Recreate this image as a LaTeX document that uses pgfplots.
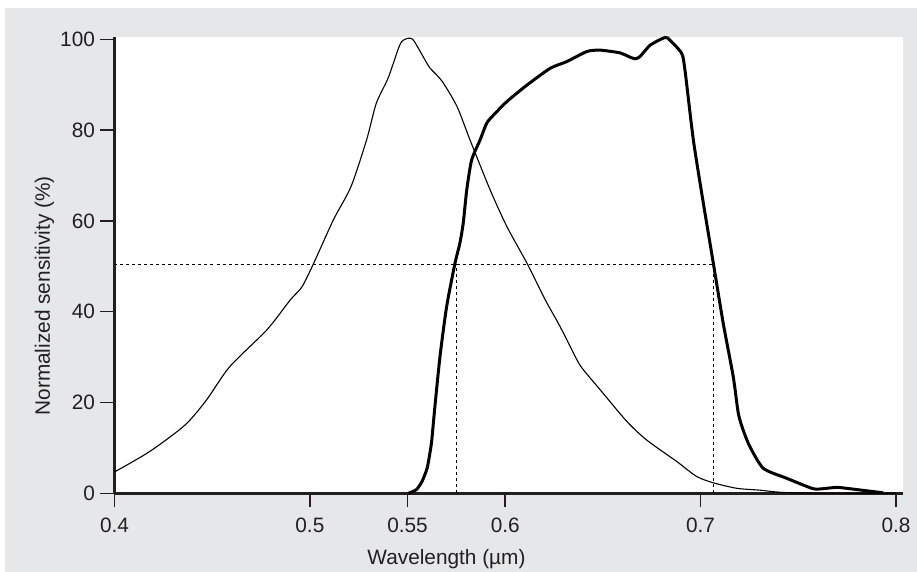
\documentclass[border=0pt]{standalone}
\usepackage{pgfplots}
\pgfplotsset{compat=1.18}
\usepackage{fontspec}
\setmainfont{Liberation Sans}
\definecolor{bggray}{HTML}{E6E7E8}
\definecolor{ink}{HTML}{231F20}

\begin{document}
\fontsize{10.4}{12.5}\selectfont
\begin{tikzpicture}
\path[use as bounding box] (0,0) rectangle (458.5pt,286pt);
\fill[bggray] (2.5pt,0) rectangle (458.5pt,282pt);
\begin{axis}[
  at={(57.25pt,39.35pt)}, anchor=south west,
  scale only axis, width=394.25pt, height=228.15pt,
  xmin=0.4, xmax=0.8036, ymin=0, ymax=100.5,
  clip=false,
  axis x line*=bottom, axis y line*=left,
  axis line style={-, line width=1.3pt, ink},
  axis background/.style={fill=white},
  xtick={0.4,0.5,0.55,0.6,0.7,0.8},
  xticklabels={0.4,0.5,0.55,0.6,0.7,0.8},
  ytick={0,20,40,60,80,100},
  minor tick num=0,
  tick align=outside,
  major tick length=7pt,
  tick style={line width=0.75pt, ink},
  /pgf/number format/assume math mode=true,
  ticklabel style={font=\fontsize{10.4}{12.5}\selectfont, text=ink, inner sep=0pt},
  xticklabel shift=4.9pt,
  yticklabel shift=2.6pt,
  xlabel={Wavelength (µm)},
  ylabel={Normalized sensitivity (\%)},
  label style={font=\fontsize{10.4}{12.5}\selectfont, text=ink, inner sep=0pt},
  xlabel style={at={(axis description cs:0.421,-0.155)}, anchor=base},
  ylabel style={at={(axis description cs:-0.0818,0.4328)}, anchor=base},
]
% thin curve
\addplot[black, line width=0.55pt, smooth, tension=0.45] coordinates {
(0.400,4.7) (0.418,9.2) (0.436,15.0) (0.447,20.5) (0.459,27.9)
(0.478,36.0) (0.490,42.6) (0.496,45.5) (0.502,50.7) (0.512,60.2)
(0.521,67.5) (0.529,77.8) (0.534,85.9) (0.540,91.4) (0.545,97.6)
(0.547,99.5) (0.550,100.2) (0.553,99.8) (0.559,95.4) (0.5616,93.6)
(0.5676,90.8) (0.5753,85.2) (0.5820,77.8) (0.5923,66.8) (0.6009,58.7)
(0.6111,50.7) (0.6205,42.6) (0.6281,36.7) (0.6367,29.4) (0.640,27.2)
(0.6486,22.8) (0.6623,15.8) (0.6725,11.7) (0.6878,7.0) (0.698,3.7)
(0.7066,2.3) (0.7185,1.1) (0.730,0.7) (0.747,0.1) (0.800,0)
};
% thick curve
\addplot[black, line width=1.5pt, smooth, tension=0.4] coordinates {
(0.5504,0) (0.5545,0.8) (0.5574,2.6) (0.5600,5.5) (0.5615,9.0)
(0.5624,11.7) (0.5640,19.1) (0.5666,30.1) (0.5700,41.1) (0.5743,50.7)
(0.5768,55.1) (0.5785,59.5) (0.5803,66.8) (0.5828,73.4) (0.5871,77.8)
(0.5905,81.5) (0.5940,83.3) (0.6009,86.3) (0.6111,89.9) (0.6230,93.6)
(0.6316,95.1) (0.6418,97.3) (0.6486,97.6) (0.6588,97.0) (0.6631,96.2)
(0.6665,95.7) (0.6690,96.2) (0.6742,98.7) (0.6818,100.4) (0.6843,99.8)
(0.6903,96.9) (0.6920,93.2) (0.6963,77.8) (0.7014,63.9) (0.7065,50.7)
(0.7116,37.4) (0.7167,25.7) (0.7193,17.6) (0.7218,13.9) (0.7252,10.3)
(0.7321,5.5) (0.7441,3.3) (0.7569,1.1) (0.7611,0.95) (0.7697,1.3)
(0.7765,1.0) (0.7935,0.1)
};
% half-maximum guides
\addplot[black, line width=0.5pt, dash pattern=on 1.5pt off 1.5pt] coordinates {(0.4,50.5) (0.7065,50.5)};
\addplot[black, line width=0.5pt, dash pattern=on 1.5pt off 1.5pt] coordinates {(0.5748,0) (0.5748,50.5)};
\addplot[black, line width=0.5pt, dash pattern=on 1.5pt off 1.5pt] coordinates {(0.7065,0) (0.7065,50.5)};
\end{axis}
\end{tikzpicture}
\end{document}
